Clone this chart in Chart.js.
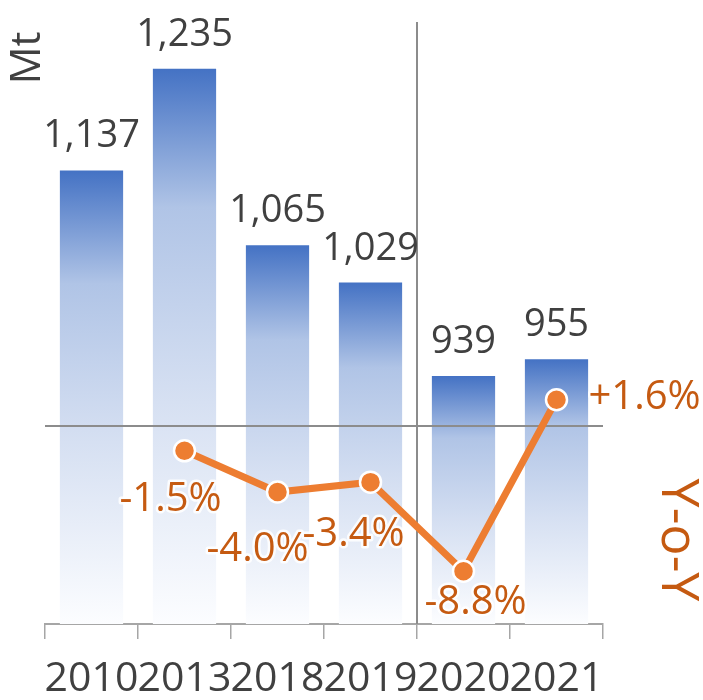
<!DOCTYPE html>
<html>
<head>
<meta charset="utf-8">
<script src="https://cdn.jsdelivr.net/npm/chart.js@4"></script>
<style>
  html, body { margin: 0; padding: 0; background: #fff; }
  #chart { display: block; }
</style>
</head>
<body>
<canvas id="chart" width="703" height="700"></canvas>
<script>
// chart data
const years = ['2010', '2013', '2018', '2019', '2020', '2021'];
const volumes = [1137, 1235, 1065, 1029, 939, 955];
const yoyChange = [null, -1.5, -4.0, -3.4, -8.8, 1.6];

const FONT = '"Open Sans", "Noto Sans", sans-serif';
const GREY_TEXT = '#404040';
const ORANGE = '#ED7D31';
const ORANGE_TEXT = '#C55A11';

// label offsets from each y-o-y point (dx, dy), last one sits on the right
const yoyLabelOffsets = [null, [-14, 49], [-20, 58], [-17, 52], [12, 31], [32, -2]];

function barGradient(context) {
    const chart = context.chart;
    const area = chart.chartArea;
    if (!area) return '#4472C4';
    const top = chart.scales.y.getPixelForValue(context.raw);
    const g = chart.ctx.createLinearGradient(0, top, 0, area.bottom);
    g.addColorStop(0, '#4472C4');
    g.addColorStop(0.25, '#B0C4E6');
    g.addColorStop(0.6, '#D6E0F2');
    g.addColorStop(1, '#FCFDFF');
    return g;
}

// separator lines drawn on top of the bars
const separatorPlugin = {
    id: 'separators',
    afterDatasetDraw(chart, args) {
        if (args.meta.type !== 'bar') return;
        const ctx = chart.ctx;
        const area = chart.chartArea;
        const x = chart.scales.x;
        const splitX = (x.getPixelForValue(3) + x.getPixelForValue(4)) / 2;
        const zeroY = chart.scales.y2.getPixelForValue(0);
        ctx.save();
        ctx.strokeStyle = '#8C8C8C';
        ctx.lineWidth = 2;
        ctx.beginPath();
        ctx.moveTo(area.left, zeroY);
        ctx.lineTo(area.right, zeroY);
        ctx.moveTo(splitX, area.top);
        ctx.lineTo(splitX, area.bottom);
        ctx.stroke();
        ctx.restore();
    }
};

// value labels and axis titles
const labelPlugin = {
    id: 'valueLabels',
    afterDatasetsDraw(chart) {
        const ctx = chart.ctx;
        const lineMeta = chart.getDatasetMeta(0);
        const barMeta = chart.getDatasetMeta(1);
        ctx.save();

        ctx.font = '38px ' + FONT;
        ctx.fillStyle = GREY_TEXT;
        ctx.textAlign = 'center';
        ctx.textBaseline = 'alphabetic';
        barMeta.data.forEach((bar, i) => {
            ctx.fillText(volumes[i].toLocaleString('en-US'), bar.x, bar.y - 23);
        });

        ctx.font = '40px ' + FONT;
        ctx.textBaseline = 'middle';
        lineMeta.data.forEach((pt, i) => {
            const v = yoyChange[i];
            if (v === null) return;
            const off = yoyLabelOffsets[i];
            const text = (v > 0 ? '+' : '') + v.toFixed(1) + '%';
            ctx.textAlign = i === years.length - 1 ? 'left' : 'center';
            ctx.lineJoin = 'round';
            ctx.strokeStyle = 'rgba(255,255,255,0.85)';
            ctx.lineWidth = 5;
            ctx.strokeText(text, pt.x + off[0], pt.y + off[1]);
            ctx.fillStyle = ORANGE_TEXT;
            ctx.fillText(text, pt.x + off[0], pt.y + off[1]);
        });

        // axis titles
        ctx.textAlign = 'center';
        ctx.textBaseline = 'middle';
        ctx.save();
        ctx.translate(28, 58);
        ctx.rotate(-Math.PI / 2);
        ctx.font = '42px ' + FONT;
        ctx.fillStyle = GREY_TEXT;
        ctx.fillText('Mt', 0, 0);
        ctx.restore();

        ctx.save();
        ctx.translate(677, 540);
        ctx.rotate(Math.PI / 2);
        ctx.font = '52px ' + FONT;
        ctx.fillStyle = ORANGE_TEXT;
        ctx.fillText('Y-o-Y', 0, 0);
        ctx.restore();

        ctx.restore();
    }
};

new Chart(document.getElementById('chart'), {
    data: {
        labels: years,
        datasets: [{
            type: 'line',
            data: yoyChange,
            yAxisID: 'y2',
            order: 0,
            borderColor: ORANGE,
            borderWidth: 7,
            pointRadius: 10.5,
            pointBackgroundColor: ORANGE,
            pointBorderColor: '#FFFFFF',
            pointBorderWidth: 2.5,
            tension: 0
        }, {
            type: 'bar',
            data: volumes,
            yAxisID: 'y',
            order: 1,
            backgroundColor: barGradient,
            borderWidth: 0,
            barPercentage: 0.68,
            categoryPercentage: 1
        }]
    },
    options: {
        responsive: false,
        animation: false,
        devicePixelRatio: 1,
        layout: {
            padding: { left: 45, right: 100, top: 22, bottom: -20 }
        },
        plugins: {
            legend: { display: false },
            tooltip: { enabled: false }
        },
        scales: {
            x: {
                offset: true,
                grid: {
                    offset: true,
                    drawOnChartArea: false,
                    tickLength: 15,
                    color: '#A6A6A6',
                    lineWidth: 1.5
                },
                border: { color: '#A6A6A6', width: 2 },
                ticks: {
                    autoSkip: false,
                    maxRotation: 0,
                    minRotation: 0,
                    padding: 20,
                    color: GREY_TEXT,
                    font: { family: FONT, size: 41, lineHeight: 1.0 }
                }
            },
            y: {
                display: false,
                min: 700,
                max: 1280
            },
            y2: {
                display: false,
                min: -12,
                max: 24.5
            }
        }
    },
    plugins: [separatorPlugin, labelPlugin]
});
</script>
</body>
</html>
